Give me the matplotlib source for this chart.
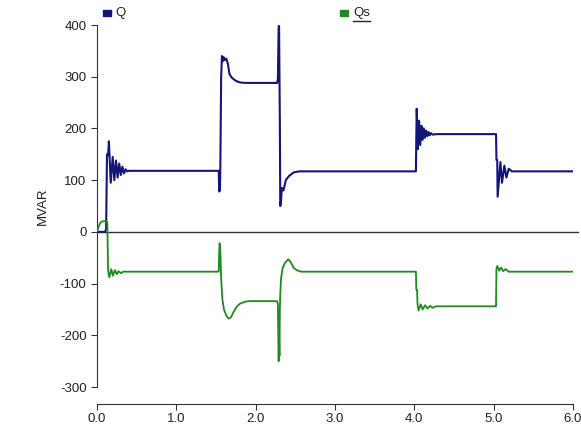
import matplotlib
matplotlib.use("Agg")
import matplotlib.pyplot as plt
from matplotlib.patches import Rectangle

plt.rcParams['font.family'] = ['Liberation Sans', 'DejaVu Sans']
plt.rcParams['axes.unicode_minus'] = False

# ---- data ----
q_time = [0.00, 0.10, 0.115, 0.126, 0.14, 0.15, 0.173, 0.198, 0.218, 0.24, 0.26,
          0.28, 0.30, 0.32, 0.34, 0.36, 0.38, 0.40,
          1.535, 1.54, 1.55, 1.555, 1.565, 1.575, 1.585, 1.595, 1.61, 1.63, 1.65,
          1.67, 1.70, 1.75, 1.80, 1.87, 2.27, 2.28, 2.29, 2.295, 2.30, 2.305, 2.31,
          2.32, 2.33, 2.35, 2.38, 2.42, 2.48, 2.55,
          4.02, 4.025, 4.03, 4.045, 4.06, 4.075, 4.09, 4.105, 4.12, 4.135, 4.15,
          4.165, 4.18, 4.195, 4.21, 4.23, 4.28,
          5.03, 5.035, 5.045, 5.05, 5.085, 5.105, 5.135, 5.16, 5.19, 5.23, 6.0]
q_vals = [0, 0, 5, 150, 148, 175, 95, 145, 100, 138, 105,
          132, 110, 126, 113, 121, 117, 118,
          118, 78, 80, 130, 300, 340, 330, 338, 332, 335, 325,
          305, 298, 292, 289, 288, 288, 295, 398, 398, 300, 210, 50,
          60, 85, 80, 100, 108, 115, 117,
          117, 180, 238, 160, 215, 168, 205, 178, 200, 182, 196,
          185, 193, 187, 191, 188, 189,
          189, 139, 139, 68, 135, 95, 128, 105, 122, 117, 117]

qs_time = [0.00, 0.01, 0.02, 0.04, 0.06, 0.125, 0.13, 0.14, 0.155, 0.18, 0.20,
           0.225, 0.25, 0.27, 0.30, 0.33,
           1.535, 1.54, 1.545, 1.55, 1.555, 1.565, 1.58, 1.60, 1.63, 1.66, 1.69,
           1.72, 1.76, 1.80, 1.85, 1.90, 2.27, 2.28, 2.285, 2.29, 2.295, 2.30,
           2.305, 2.31, 2.32, 2.34, 2.37, 2.41, 2.44, 2.48, 2.53, 2.58,
           4.02, 4.025, 4.035, 4.04, 4.055, 4.08, 4.105, 4.135, 4.165, 4.20,
           4.23, 4.27, 4.33,
           5.03, 5.035, 5.045, 5.07, 5.095, 5.12, 5.15, 5.19, 6.0]
qs_vals = [0, 5, 10, 17, 20, 21, 15, -75, -88, -72, -85,
           -74, -82, -76, -80, -77,
           -77, -40, -22, -25, -40, -90, -130, -150, -162, -168, -165,
           -155, -145, -139, -136, -134, -134, -140, -200, -250, -200, -240,
           -150, -120, -90, -70, -60, -53, -58, -70, -75, -77,
           -77, -112, -112, -140, -152, -140, -150, -142, -148, -143,
           -147, -144, -144,
           -144, -72, -66, -75, -69, -76, -72, -77, -77]

x_ticks = [0, 1, 2, 3, 4, 5, 6]
x_labels = ['0.0', '1.0', '2.0', '3.0', '4.0', '5.0', '6.0']
y_ticks = [-300, -200, -100, 0, 100, 200, 300, 400]
series_names = ['Q', 'Qs']
colors = ['#14147a', '#1f8a1f']

W, H = 581, 429
fig = plt.figure(figsize=(W / 100, H / 100), dpi=100)
ax = fig.add_axes([97 / W, 1 - 387 / H, (573 - 97) / W, (387 - 25) / H])

ax.plot(q_time, q_vals, color=colors[0], lw=1.5, zorder=3)
ax.plot(qs_time, qs_vals, color=colors[1], lw=1.3, zorder=3)
ax.plot([0, 1.01], [0, 0], transform=ax.get_yaxis_transform(), color='#333333',
        lw=1.0, zorder=2, clip_on=False)

ax.set_xlim(0, 6)
ax.set_ylim(-300, 400)
ax.set_xticks(x_ticks)
ax.set_xticklabels(x_labels)
ax.set_yticks(y_ticks)
for s in ['top', 'right']:
    ax.spines[s].set_visible(False)
ax.spines['bottom'].set_position(('outward', 12))
ax.spines['left'].set_color('#333333')
ax.spines['bottom'].set_color('#333333')
ax.tick_params(axis='both', labelsize=9.5, length=4, color='#333333', labelcolor='#222222')
ax.tick_params(axis='x', pad=3)
ax.set_ylabel('MVAR', fontsize=9.5, color='#222222', labelpad=8)

# legend
fig.add_artist(Rectangle((103 / W, 1 - 16 / H), 8 / W, 6 / H, transform=fig.transFigure,
                         color=colors[0]))
fig.text(115 / W, 1 - 13 / H, series_names[0], fontsize=9.5, va='center', color='#222222')
fig.add_artist(Rectangle((340 / W, 1 - 16 / H), 8 / W, 6 / H, transform=fig.transFigure,
                         color=colors[1]))
fig.text(353 / W, 1 - 13 / H, series_names[1], fontsize=9.5, va='center', color='#222222')
fig.add_artist(plt.Line2D([353 / W, 370 / W], [1 - 21 / H, 1 - 21 / H],
                          transform=fig.transFigure, color='#222222', lw=1))

fig.savefig('out.png', dpi=100)
